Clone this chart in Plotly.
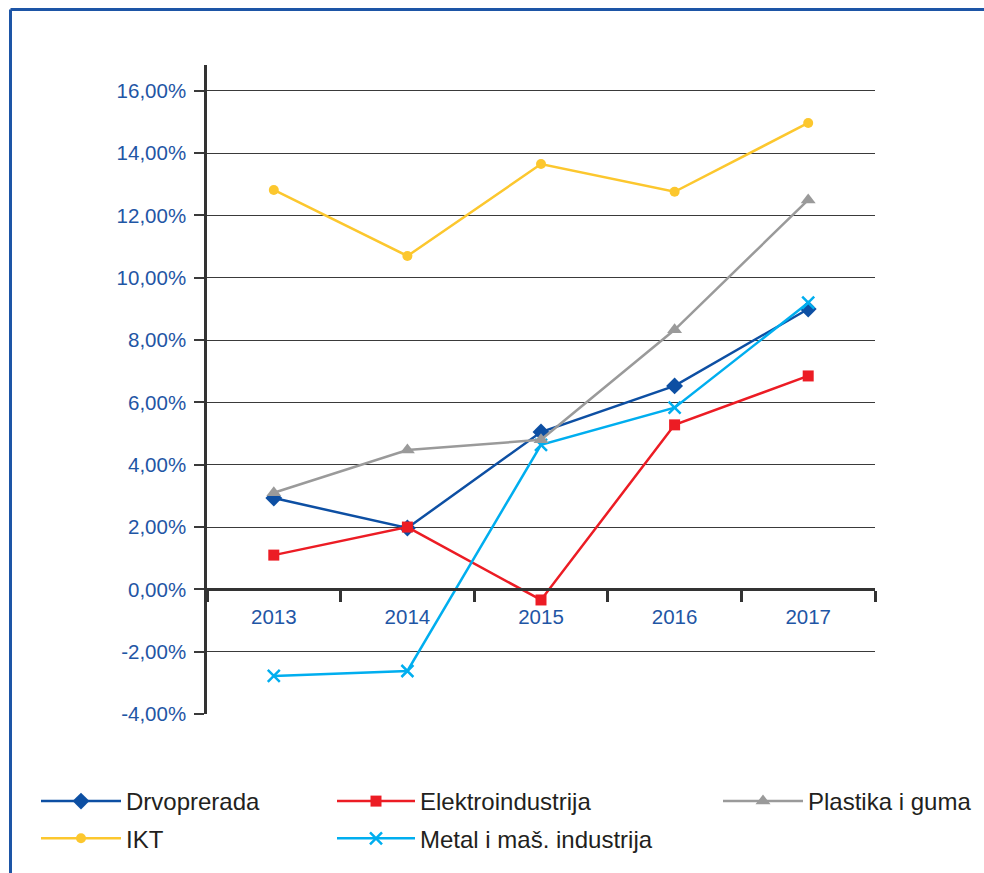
import plotly.graph_objects as go

years = ["2013", "2014", "2015", "2016", "2017"]
drvoprerada = [2.93, 1.97, 5.05, 6.53, 9.00]
elektroindustrija = [1.10, 2.00, -0.34, 5.28, 6.85]
plastika = [3.10, 4.47, 4.80, 8.33, 12.50]
ikt = [12.82, 10.70, 13.65, 12.76, 14.97]
metal = [-2.78, -2.62, 4.64, 5.83, 9.20]

ytick_vals = [-4, -2, 0, 2, 4, 6, 8, 10, 12, 14, 16]
ytick_text = ["-4,00%", "-2,00%", "0,00%", "2,00%", "4,00%", "6,00%",
              "8,00%", "10,00%", "12,00%", "14,00%", "16,00%"]

series = [
    ("Drvoprerada", drvoprerada, "#0d4fa3", "diamond", 13, "legend"),
    ("IKT", ikt, "#fcc72e", "circle", 10, "legend"),
    ("Elektroindustrija", elektroindustrija, "#ec1c24", "square", 11, "legend2"),
    ("Metal i maš. industrija", metal, "#00aeef", "x-thin", 12, "legend2"),
    ("Plastika i guma", plastika, "#9a9a9a", "triangle-up", 13, "legend3"),
]

W, H = 984, 873
L, R, T, B = 207, 109, 65, 159
pw, ph = W - L - R, H - T - B

def px(x):
    return (x - L) / pw

def py(y):
    return (H - B - y) / ph

fig = go.Figure()
for name, vals, color, sym, size, lg in series:
    fig.add_trace(go.Scatter(
        x=years, y=vals, name=name, mode="lines+markers",
        line=dict(color=color, width=2.5),
        marker=dict(symbol=sym, size=size, color=color,
                    line=dict(color=color, width=2.5 if sym == "x-thin" else 0)),
        legend=lg, legendgroup=name,
    ))

ymin, ymax = -4, 16.83
zero_pos = (0 - ymin) / (ymax - ymin)

tickfont = dict(family="Liberation Sans, Arial", size=20.5, color="#1f56a5")
legfont = dict(family="Liberation Sans, Arial", size=24, color="#231f20")

def leg(xpix, iw=80):
    return dict(orientation="v", xref="container", yref="container",
                x=xpix / W, y=1 - 779 / H, xanchor="left", yanchor="top",
                font=legfont, itemwidth=iw, bgcolor="rgba(0,0,0,0)", tracegroupgap=3)

fig.update_layout(
    width=W, height=H,
    margin=dict(l=L, r=R, t=T, b=B, pad=0, autoexpand=False),
    paper_bgcolor="white", plot_bgcolor="white",
    xaxis=dict(type="category", range=[-0.5, 4.5], anchor="free", position=zero_pos,
               showline=True, linecolor="#333333", linewidth=2.5,
               ticks="outside", tickson="boundaries", ticklen=11, tickwidth=2.5,
               tickcolor="#333333", tickfont=tickfont, showgrid=False,
               ticklabelstandoff=8),
    yaxis=dict(range=[ymin, ymax], tickvals=ytick_vals, ticktext=ytick_text,
               showline=True, linecolor="#333333", linewidth=2.5,
               ticks="outside", ticklen=10, tickwidth=1.5, tickcolor="#3a3a3a",
               showgrid=True, gridcolor="#3a3a3a", gridwidth=1.3,
               zeroline=False, tickfont=tickfont, ticklabelstandoff=4),
    legend=leg(36),
    legend2=leg(332, 78),
    legend3=leg(718, 80),
    shapes=[
        dict(type="line", xref="paper", yref="paper", x0=px(10.5), x1=px(1000),
             y0=py(9.6), y1=py(9.6), line=dict(color="#1d55a6", width=3)),
        dict(type="line", xref="paper", yref="paper", x0=px(10.5), x1=px(10.5),
             y0=py(9.6), y1=py(900), line=dict(color="#1d55a6", width=3)),
    ],
)

fig.write_html("out.html")
